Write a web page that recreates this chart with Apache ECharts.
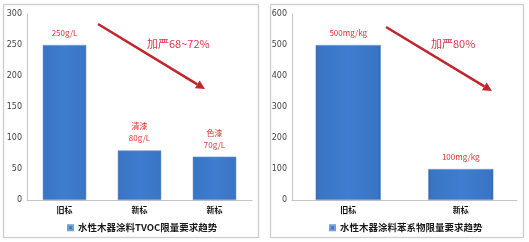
<!DOCTYPE html>
<html><head><meta charset="utf-8">
<script src="https://cdn.jsdelivr.net/npm/echarts@6/dist/echarts.min.js"></script>
<style>html,body{margin:0;padding:0;background:#fff;}#c{width:529px;height:242px;}</style>
</head><body><div id="c"></div>
<script>
var categoriesA = ['旧标', '新标', '新标'];
var valuesA = [250, 80, 70];
var labelsA = ['250g/L', '清漆\n80g/L', '色漆\n70g/L'];
var ticksA = [0, 50, 100, 150, 200, 250, 300];
var seriesNameA = '水性木器涂料TVOC限量要求趋势';
var noteA = '加严68~72%';

var categoriesB = ['旧标', '新标'];
var valuesB = [500, 100];
var labelsB = ['500mg/kg', '100mg/kg'];
var ticksB = [0, 100, 200, 300, 400, 500, 600];
var seriesNameB = '水性木器涂料苯系物限量要求趋势';
var noteB = '加严80%';

var FONT = '"Noto Sans CJK SC", "DejaVu Sans", sans-serif';
var barColor = new echarts.graphic.LinearGradient(0, 0, 1, 0, [
  {offset: 0, color: '#2a5aa0'},
  {offset: 0.04, color: '#3a74c4'},
  {offset: 0.5, color: '#3f7dd0'},
  {offset: 0.96, color: '#3a74c4'},
  {offset: 1, color: '#2a5aa0'}
]);
function yAxis(idx, ticks) {
  return {
    type: 'value', gridIndex: idx, min: ticks[0], max: ticks[ticks.length - 1],
    interval: ticks[1] - ticks[0],
    axisLine: {show: true, lineStyle: {color: '#c4c4c4'}},
    axisTick: {show: false}, splitLine: {show: false},
    axisLabel: {color: '#444', fontSize: 8, margin: 5, fontFamily: 'DejaVu Sans'}
  };
}
function xAxis(idx, cats) {
  return {
    type: 'category', gridIndex: idx, data: cats,
    axisLine: {lineStyle: {color: '#c4c4c4'}}, axisTick: {show: false},
    axisLabel: {color: '#111', fontSize: 8, fontWeight: 'bold', margin: 6, fontFamily: FONT}
  };
}
function barSeries(name, idx, vals, labels, lineH) {
  return {
    name: name, type: 'bar', xAxisIndex: idx, yAxisIndex: idx, data: vals,
    barWidth: '58%',
    itemStyle: {color: barColor, borderColor: '#6f9fdc', borderWidth: 0.6},
    label: {
      show: true, position: 'top', distance: 6, color: '#e0302c', fontSize: 8,
      fontFamily: FONT, lineHeight: lineH,
      formatter: function (p) { return labels[p.dataIndex]; }
    }
  };
}
function arrow(x1, y1, x2, y2) {
  var ang = Math.atan2(y2 - y1, x2 - x1), L = 9, W = 4.5;
  var bx = x2 - L * Math.cos(ang), by = y2 - L * Math.sin(ang);
  var px = -Math.sin(ang) * W, py = Math.cos(ang) * W;
  return [
    {type: 'line', shape: {x1: x1, y1: y1, x2: bx, y2: by}, style: {stroke: '#c0262c', lineWidth: 2.6}},
    {type: 'polygon', shape: {points: [[x2, y2], [bx + px, by + py], [bx - px, by - py]]}, style: {fill: '#c0262c'}}
  ];
}
var chart = echarts.init(document.getElementById('c'));
var graphics = [
  {type: 'rect', shape: {x: 3.5, y: 4.5, width: 255, height: 233}, style: {fill: 'none', stroke: '#cdcdcd', lineWidth: 1, shadowBlur: 2, shadowColor: 'rgba(0,0,0,0.15)'}, z: -1},
  {type: 'rect', shape: {x: 270.5, y: 4.5, width: 253, height: 233}, style: {fill: 'none', stroke: '#cdcdcd', lineWidth: 1, shadowBlur: 2, shadowColor: 'rgba(0,0,0,0.15)'}, z: -1},
  {type: 'text', left: 147, top: 38, style: {text: noteA, fill: '#d9364a', font: '11px ' + FONT}},
  {type: 'text', left: 431, top: 38, style: {text: noteB, fill: '#d9364a', font: '11px ' + FONT}}
].concat(arrow(98, 24, 205, 89)).concat(arrow(386, 27, 492, 91));

var legendText = {fontSize: 9.5, color: '#1a1a1a', fontWeight: 'bold', fontFamily: FONT};
chart.setOption({
  animation: false,
  textStyle: {fontFamily: FONT},
  grid: [
    {left: 27, top: 14, width: 225, height: 186},
    {left: 292, top: 14, width: 225, height: 186}
  ],
  xAxis: [xAxis(0, categoriesA), xAxis(1, categoriesB)],
  yAxis: [yAxis(0, ticksA), yAxis(1, ticksB)],
  legend: [
    {data: [{name: seriesNameA, itemStyle: {color: '#5a76a8'}}], left: 62, top: 218, itemWidth: 5, itemHeight: 5, itemGap: 3,
     textStyle: legendText, icon: 'rect'},
    {data: [{name: seriesNameB, itemStyle: {color: '#5a76a8'}}], left: 324, top: 218, itemWidth: 5, itemHeight: 5, itemGap: 3,
     textStyle: legendText, icon: 'rect'}
  ],
  series: [
    barSeries(seriesNameA, 0, valuesA, labelsA, 12),
    barSeries(seriesNameB, 1, valuesB, labelsB, 12)
  ],
  graphic: graphics
});
</script></body></html>
